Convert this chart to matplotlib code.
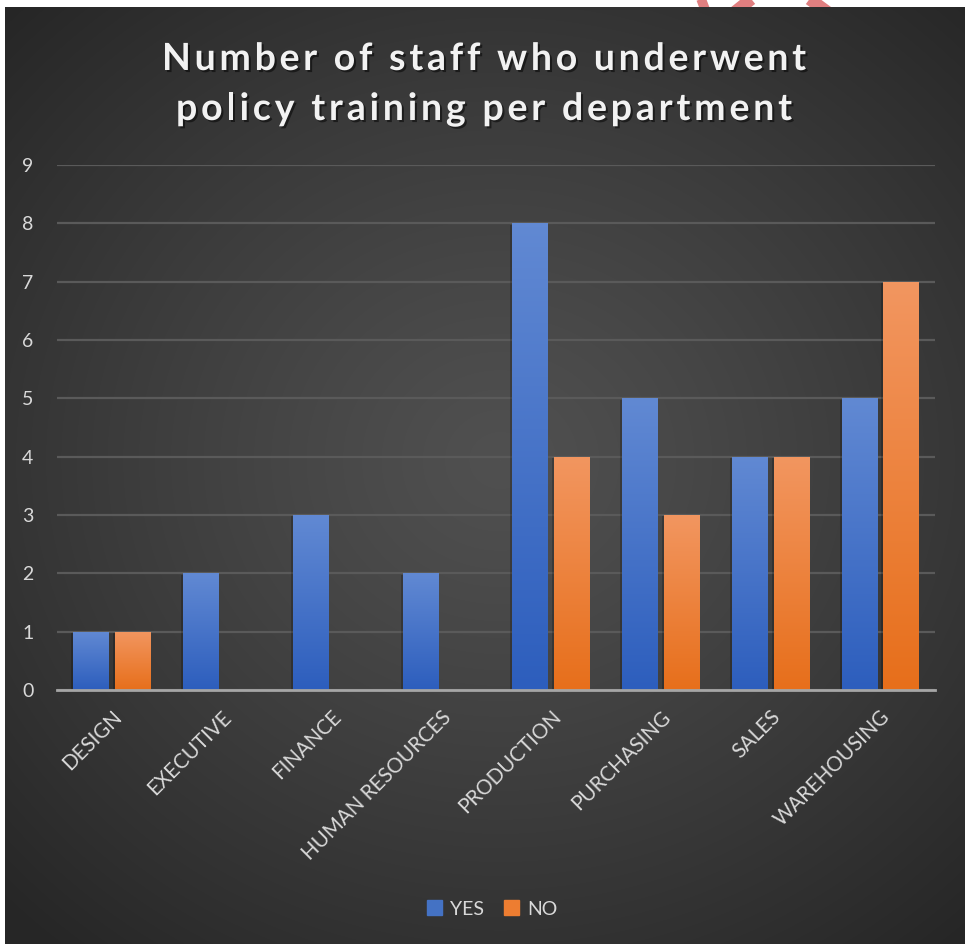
import numpy as np
import matplotlib
matplotlib.use("Agg")
import matplotlib.pyplot as plt
import matplotlib.patheffects as pe
import matplotlib.transforms as mtransforms
from matplotlib.colors import to_rgb, LinearSegmentedColormap
from matplotlib.patches import Rectangle
from matplotlib.font_manager import FontProperties

departments = ["DESIGN", "EXECUTIVE", "FINANCE", "HUMAN RESOURCES",
               "PRODUCTION", "PURCHASING", "SALES", "WAREHOUSING"]
yes_counts = [1, 2, 3, 2, 8, 5, 4, 5]
no_counts = [1, 0, 0, 0, 4, 3, 4, 7]
series_names = ["YES", "NO"]
title_lines = ["Number of staff who underwent", "policy training per department"]

W, H = 965, 944
fig = plt.figure(figsize=(W / 100, H / 100), dpi=100)
fig.patch.set_facecolor("white")

# little red mark peeking above the panel
deco = fig.add_axes([0, 0, 1, 1], zorder=0)
deco.set_xlim(0, W)
deco.set_ylim(H, 0)
deco.axis("off")
deco.plot([735, 760], [12, -8], color="#e07f80", lw=9, solid_capstyle="butt")
deco.plot([800, 830], [-8, 14], color="#e07f80", lw=9, solid_capstyle="butt")
deco.plot([700, 706], [-4, 12], color="#e07f80", lw=7, solid_capstyle="butt")

# dark panel with radial gradient
px0, py0 = 5, 7
bg = fig.add_axes([px0 / W, 0, (W - px0) / W, (H - py0) / H], zorder=1)
bg.axis("off")
yy, xx = np.mgrid[py0:H, px0:W]
d = np.sqrt(((xx - 500) / 700.0) ** 2 + ((yy - 460) / 640.0) ** 2)
d = np.clip(d, 0, 1) ** 1.2
c_in, c_out = np.array(to_rgb("#505050")), np.array(to_rgb("#262626"))
img = c_in[None, None, :] * (1 - d[..., None]) + c_out[None, None, :] * d[..., None]
bg.imshow(img, aspect="auto", interpolation="bilinear")

ax = fig.add_axes([57 / W, (H - 690) / H, (935 - 57) / W, (690 - 165) / H], zorder=2)
ax.patch.set_alpha(0)

x = np.arange(len(departments))
bw = 0.32
off = 0.19
blue_cmap = LinearSegmentedColormap.from_list("b", ["#2d5ebd", "#6189d3"])
orange_cmap = LinearSegmentedColormap.from_list("o", ["#e76f1b", "#f29660"])

grad = np.linspace(0, 1, 128).reshape(-1, 1)
shadow = [pe.SimplePatchShadow(offset=(-1.5, -1), shadow_rgbFace="black", alpha=0.22), pe.Normal()]
for vals, xs, cmap, base in [(yes_counts, x - off, blue_cmap, "#4472c4"),
                             (no_counts, x + off, orange_cmap, "#ed7d31")]:
    bars = ax.bar(xs, vals, width=bw, color=base, zorder=3, linewidth=0)
    for rect, v in zip(bars, vals):
        if v <= 0:
            continue
        rect.set_path_effects(shadow)
        im = ax.imshow(grad, cmap=cmap, origin="lower", aspect="auto",
                       extent=[rect.get_x(), rect.get_x() + rect.get_width(), 0, v],
                       zorder=4, interpolation="bilinear")
        im.set_clip_path(rect)

ax.set_xlim(-0.5, len(departments) - 0.5)
ax.set_ylim(0, 9)
ax.set_yticks(range(0, 10))
ax.yaxis.grid(True, color="#5a5a5a", lw=1.6, zorder=1)
ax.set_axisbelow(True)
for s in ["top", "right", "left"]:
    ax.spines[s].set_visible(False)
ax.spines["bottom"].set_color("#a6a6a6")
ax.spines["bottom"].set_linewidth(2)
ax.spines["bottom"].set_zorder(5)

font = "Lato"
ax.tick_params(axis="y", length=0, pad=17, labelsize=14, labelcolor="#d9d9d9")
ax.tick_params(axis="x", length=0, pad=10)
for lab in ax.get_yticklabels():
    lab.set_fontfamily(font)
ax.set_xticks(x)
ax.set_xticklabels(departments, rotation=45, ha="right", va="center",
                   rotation_mode="anchor", fontsize=14.8, color="#d9d9d9", family=font)
for lab in ax.get_xticklabels():
    lab.set_transform(lab.get_transform() + mtransforms.ScaledTranslation(0.07, -0.10, fig.dpi_scale_trans))

# title with letter spacing, placed glyph by glyph
renderer = fig.canvas.get_renderer()
tprop = FontProperties(family=font, weight="bold", size=27)


def text_w(s):
    return renderer.get_text_width_height_descent(s, tprop, ismath=False)[0]


title_fx = [pe.withSimplePatchShadow(offset=(1.5, -1.5), shadow_rgbFace="black", alpha=0.5)]
for line, base_y, target in [(title_lines[0], 70, 644), (title_lines[1], 120, 616)]:
    natural = text_w("|" + line + "|") - text_w("||")
    sp = (target - natural) / (len(line) - 1)
    x_left = 484 - target / 2
    for i, ch in enumerate(line):
        if ch == " ":
            continue
        xi = x_left + (text_w("|" + line[:i] + "|") - text_w("||")) + i * sp
        fig.text(xi / W, 1 - base_y / H, ch, ha="left", va="baseline", color="#f2f2f2",
                 fontproperties=tprop, zorder=5, path_effects=title_fx)

handles = [Rectangle((0, 0), 1, 1, color=c) for c in ["#4472c4", "#ed7d31"]]
leg = fig.legend(handles, series_names, loc="center", bbox_to_anchor=(492 / W, 1 - 909 / H),
                 ncol=2, frameon=False, handlelength=0.8, handleheight=0.8,
                 handletextpad=0.4, columnspacing=1.0, prop={"family": font, "size": 14})
for t in leg.get_texts():
    t.set_color("#d9d9d9")
leg.set_zorder(6)

fig.savefig("out.png", dpi=100)
